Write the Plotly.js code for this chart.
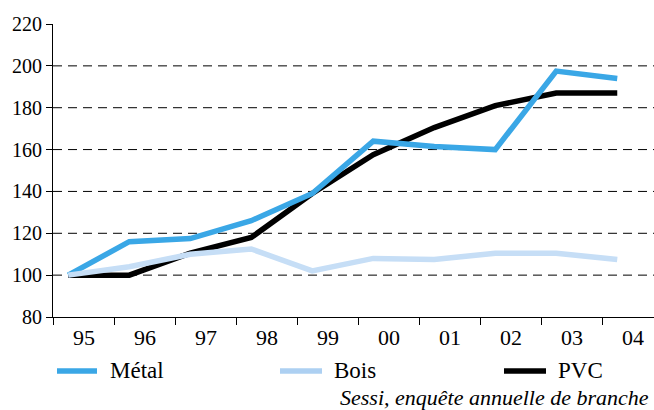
<!DOCTYPE html>
<html><head><meta charset="utf-8">
<script src="https://cdn.plot.ly/plotly-3.0.1.min.js"></script></head>
<body style="margin:0">
<div id="c" style="width:654px;height:410px"></div>
<div style="font-family:'Liberation Serif';font-size:22px">Métal Bois PVC <i>Sessi</i></div>
<script>
const years = ['95','96','97','98','99','00','01','02','03','04'];
const metal = [100, 116, 117.5, 126, 139, 164, 161.5, 160, 197.5, 194];
const bois  = [100, 104, 110, 112.5, 102, 108, 107.5, 110.5, 110.5, 107.5];
const pvc   = [100, 100, 110.5, 118, 139, 157.5, 170.5, 181, 187, 187];
const seriesNames = ['Métal', 'Bois', 'PVC'];
const yTicks = [80, 100, 120, 140, 160, 180, 200, 220];
const gridVals = [100, 120, 140, 160, 180, 200];
const sourceText = 'Sessi, enquête annuelle de branche';

const colMetal = '#3aa7e6', colBois = '#c6def6', colPvc = '#000000';
const fam = 'Liberation Serif';

const W = 654, H = 410;
const mL = 53, mR = 0, mT = 24, mB = 93;
const plotW = W - mL - mR, plotH = H - mT - mB;
const px2x = p => (p - mL) / plotW;
const py2y = p => (H - mB - p) / plotH;

const xPos = years.map((_, i) => i + 0.25);
const catTicks = years.map((_, i) => i).concat([years.length]);
const labelPos = years.map((_, i) => i + 0.5);

function mkLine(y, name, color) {
  return {x: xPos, y: y, name: name, type: 'scatter', mode: 'lines',
          line: {color: color, width: 5.5}, showlegend: false, hoverinfo: 'skip'};
}

const traces = [
  mkLine(pvc, seriesNames[2], colPvc),
  mkLine(metal, seriesNames[0], colMetal),
  mkLine(bois, seriesNames[1], colBois)
];

const xRange = [0, plotW / 61];

const shapes = gridVals.map(v => ({
  type: 'line', xref: 'paper', yref: 'y', x0: 0, x1: 1, y0: v, y1: v,
  line: {color: '#000', width: 1, dash: '9px,6px'}, layer: 'below'
}));

const annotations = [];
// x category labels, centred between tick marks
years.forEach((lab, i) => {
  annotations.push({xref: 'x', yref: 'paper', x: labelPos[i], y: py2y(337),
    xanchor: 'center', yanchor: 'middle', showarrow: false, text: lab,
    font: {family: fam, size: 22, color: '#000'}});
});

const legendItems = [
  {name: seriesNames[0], color: colMetal, x0: 57, x1: 97, tx: 108},
  {name: seriesNames[1], color: '#add0f2', x0: 280, x1: 322, tx: 332},
  {name: seriesNames[2], color: colPvc, x0: 504, x1: 546, tx: 556}
];
const legY = 371;
legendItems.forEach(it => {
  shapes.push({type: 'line', xref: 'paper', yref: 'paper',
    x0: px2x(it.x0), x1: px2x(it.x1), y0: py2y(legY), y1: py2y(legY),
    line: {color: it.color, width: 5.5}});
  annotations.push({xref: 'paper', yref: 'paper', x: px2x(it.tx), y: py2y(legY - 1),
    xanchor: 'left', yanchor: 'middle', showarrow: false, text: it.name,
    font: {family: fam, size: 23, color: '#000'}});
});
annotations.push({xref: 'paper', yref: 'paper', x: px2x(651), y: py2y(398),
  xanchor: 'right', yanchor: 'middle', showarrow: false,
  text: '<i>' + sourceText + '</i>', font: {family: fam, size: 22, color: '#000'}});

const layout = {
  width: W, height: H,
  margin: {l: mL, r: mR, t: mT, b: mB, pad: 0},
  showlegend: false,
  font: {family: fam, color: '#000'},
  xaxis: {range: xRange, tickvals: catTicks, ticktext: catTicks.map(() => ''),
          ticks: 'outside', ticklen: 7, tickwidth: 1, tickcolor: '#000',
          showline: true, linecolor: '#000', linewidth: 1, showgrid: false,
          zeroline: false},
  yaxis: {range: [80, 220], tickvals: yTicks, ticktext: yTicks.map(String),
          ticks: 'outside', ticklen: 6, tickwidth: 1, tickcolor: '#000',
          showline: true, linecolor: '#000', linewidth: 1, showgrid: false,
          zeroline: false, tickfont: {family: fam, size: 20, color: '#000'}},
  shapes: shapes,
  annotations: annotations
};

Plotly.newPlot('c', traces, layout, {displayModeBar: false});
</script>
</body></html>
